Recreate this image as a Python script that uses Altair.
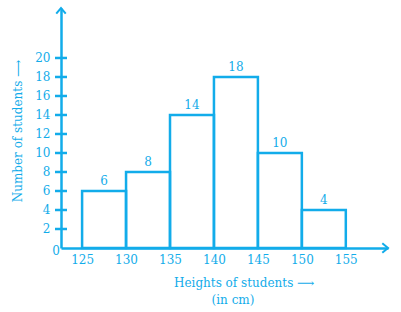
import altair as alt
import pandas as pd

starts = [125, 130, 135, 140, 145, 150]
ends = [130, 135, 140, 145, 150, 155]
counts = [6, 8, 14, 18, 10, 4]
y_ticks = [2, 4, 6, 8, 10, 12, 14, 16, 18, 20]
x_ticks = [125, 130, 135, 140, 145, 150, 155]

C = "#12acea"
FONT = "DejaVu Serif"
FS = 12
XMIN, XMAX = 122.6, 159.8
YMAX = 25.26

df = pd.DataFrame({"start": starts, "end": ends, "count": counts})
df["mid"] = (df["start"] + df["end"]) / 2

xs = alt.Scale(domain=[XMIN, XMAX], nice=False, zero=False)
ys = alt.Scale(domain=[0, YMAX], nice=False)

xaxis = alt.Axis(values=x_ticks, ticks=False, grid=False, domainColor=C, domainWidth=2.5,
                 labelColor=C, labelFont=FONT, labelFontSize=FS, labelPadding=6, title=None,
                 labelFlush=False, labelOverlap=False)
yaxis = alt.Axis(values=y_ticks, ticks=False, grid=False, domainColor=C, domainWidth=2.5,
                 labelColor=C, labelFont=FONT, labelFontSize=FS, labelPadding=11, title=None,
                 labelOverlap=False)


def X(f):
    return alt.X(f, scale=xs, axis=xaxis)


def Y(f):
    return alt.Y(f, scale=ys, axis=yaxis)


bars = alt.Chart(df).mark_rect(filled=False, stroke=C, strokeWidth=2.5).encode(
    x=X("start:Q"), x2="end:Q", y=Y("count:Q"), y2=alt.datum(0),
)

labels = alt.Chart(df).mark_text(color=C, font=FONT, fontSize=FS, baseline="bottom", dy=-3).encode(
    x=X("mid:Q"), y=Y("count:Q"), text="count:Q"
)

tdf = pd.DataFrame({"v": y_ticks})
ticks = alt.Chart(tdf).mark_rule(color=C, strokeWidth=2.5).encode(
    x=alt.value(-6), x2=alt.value(6), y=Y("v:Q")
)

zero = alt.Chart(pd.DataFrame({"x": [XMIN], "y": [0], "t": ["0"]})).mark_text(
    color=C, font=FONT, fontSize=FS, align="right", baseline="top", dx=-1, dy=-2
).encode(x=X("x:Q"), y=Y("y:Q"), text="t:N")

up_arrow = alt.Chart(pd.DataFrame({"x": [XMIN], "y": [YMAX]})).mark_point(
    shape="M-1,1.2L0,0L1,1.2", filled=False, stroke=C, strokeWidth=2, size=90, opacity=1
).encode(x=X("x:Q"), y=Y("y:Q"))

right_arrow = alt.Chart(pd.DataFrame({"x": [XMAX], "y": [0]})).mark_point(
    shape="M-1.2,-1L0,0L-1.2,1", filled=False, stroke=C, strokeWidth=2, size=90, opacity=1
).encode(x=X("x:Q"), y=Y("y:Q"))

ytitle = alt.Chart(pd.DataFrame({"t": ["Number of students ⟶"]})).mark_text(
    color=C, font=FONT, fontSize=FS, angle=270, align="center", baseline="middle"
).encode(x=alt.value(-43), y=alt.value(123), text="t:N")

xtitle1 = alt.Chart(pd.DataFrame({"t": ["Heights of students ⟶"]})).mark_text(
    color=C, font=FONT, fontSize=FS, align="left", baseline="middle"
).encode(x=alt.value(113), y=alt.value(275), text="t:N")

xtitle2 = alt.Chart(pd.DataFrame({"t": ["(in cm)"]})).mark_text(
    color=C, font=FONT, fontSize=FS, align="center", baseline="middle"
).encode(x=alt.value(172), y=alt.value(292), text="t:N")

chart = alt.layer(bars, labels, ticks, zero, up_arrow, right_arrow, ytitle, xtitle1, xtitle2).properties(
    width=327, height=240,
    autosize=alt.AutoSizeParams(type="none"),
    padding={"left": 61, "top": 8, "right": 13, "bottom": 64},
).configure(background="white").configure_view(stroke=None)

chart.save("out.html", embed_options={"renderer": "svg", "actions": False})
